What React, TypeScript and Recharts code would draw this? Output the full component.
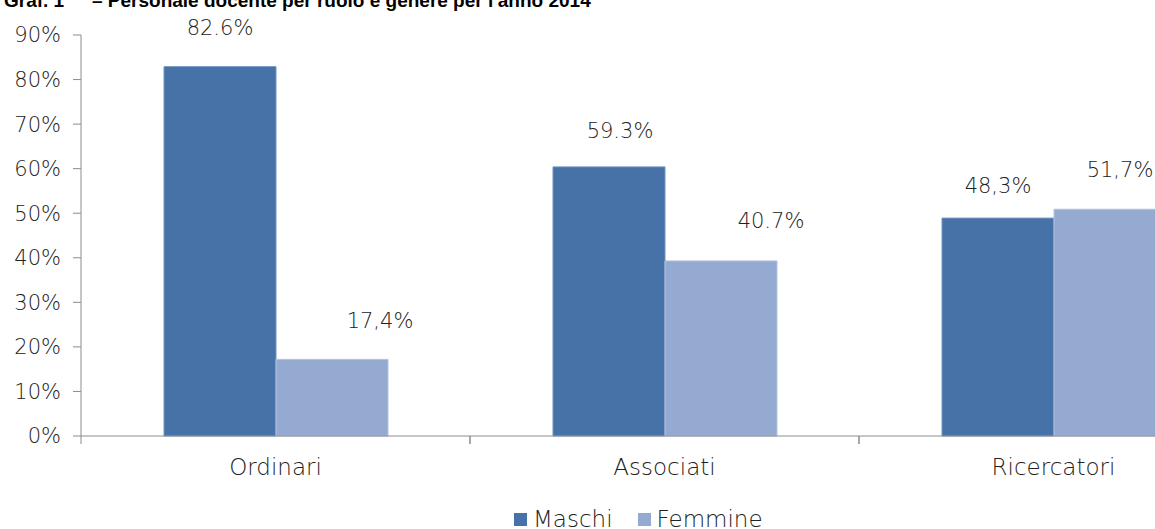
import React from 'react';
import { BarChart, Bar, XAxis, YAxis, Legend, LabelList } from 'recharts';

const categories = ['Ordinari', 'Associati', 'Ricercatori'];
const maschi = [82.9, 60.4, 48.9];
const femmine = [17.2, 39.3, 50.9];
const maschiLabels = ['82.6%', '59.3%', '48,3%'];
const femmineLabels = ['17,4%', '40.7%', '51,7%'];
const seriesNames = ['Maschi', 'Femmine'];
const yTicks = [0, 10, 20, 30, 40, 50, 60, 70, 80, 90];

const TITLE_A = 'Graf. 1';
const TITLE_B = "– Personale docente per ruolo e genere per l'anno 2014";

const FONT = '"DejaVu Sans", sans-serif';
const TEXT = '#222';
const AXIS = '#8c8c8c';
const C_M = '#4672a7';
const C_F = '#94aad0';
const COLORS = [C_M, C_F];

const CHART_W = 1253;
const CHART_H = 529;
const Y_W = 81;
const PLOT_W = 1167;
const HALF_BAND = PLOT_W / categories.length / 2;

// hand-placed label offsets, like the original
const mOffsets = [
  { dx: 0, dy: -32 },
  { dx: 11, dy: -29 },
  { dx: 0, dy: -25 },
];
const fOffsets = [
  { dx: 48, dy: -31 },
  { dx: 50, dy: -33 },
  { dx: 10, dy: -32 },
];

const data = categories.map((name, i) => ({
  name,
  maschi: maschi[i],
  femmine: femmine[i],
  mLabel: maschiLabels[i],
  fLabel: femmineLabels[i],
}));

const makeLabel = (offsets: { dx: number; dy: number }[]) => (props: any) => {
  const { x, y, width, index, value } = props;
  const o = offsets[index] ?? { dx: 0, dy: -30 };
  return (
    <text
      x={Number(x) + Number(width) / 2 + o.dx}
      y={Number(y) + o.dy}
      textAnchor="middle"
      fontFamily={FONT}
      fontWeight={200}
      fontSize={21}
      fill={TEXT}
    >
      {value}
    </text>
  );
};

const XTick = (props: any) => {
  const { x, y, payload } = props;
  return (
    <g>
      <line x1={x - HALF_BAND} x2={x - HALF_BAND} y1={y} y2={y + 8} stroke={AXIS} />
      <line x1={x + HALF_BAND} x2={x + HALF_BAND} y1={y} y2={y + 8} stroke={AXIS} />
      <text
        x={x}
        y={y + 39}
        textAnchor="middle"
        fontFamily={FONT}
        fontWeight={200}
        fontSize={23}
        fill={TEXT}
      >
        {payload.value}
      </text>
    </g>
  );
};

const LegendContent = () => (
  <div style={{ display: 'flex', alignItems: 'center', fontFamily: FONT, fontWeight: 200, fontSize: 23, color: TEXT, lineHeight: '26px' }}>
    {seriesNames.map((name, i) => (
      <div key={name} style={{ display: 'flex', alignItems: 'center', marginRight: 25 }}>
        <span style={{ display: 'inline-block', width: 13, height: 13, background: COLORS[i], marginRight: 6 }} />
        <span>{name}</span>
      </div>
    ))}
  </div>
);

export default function App() {
  return (
    <div
      style={{
        position: 'absolute',
        left: 0,
        top: 0,
        width: 1155,
        height: 529,
        overflow: 'hidden',
        background: '#fff',
      }}
    >
      <svg width={1155} height={20} style={{ position: 'absolute', left: 0, top: 0 }}>
        <text y={7} fontFamily='"Liberation Sans", Arial, sans-serif' fontWeight="bold" fontSize={19} fill="#000">
          <tspan x={4}>{TITLE_A}</tspan>
          <tspan x={92}>{TITLE_B}</tspan>
        </text>
      </svg>
      <BarChart
        width={CHART_W}
        height={CHART_H}
        data={data}
        margin={{ top: 35, right: CHART_W - Y_W - PLOT_W, left: 0, bottom: 0 }}
        barGap={0}
        barSize={112}
      >
        <XAxis
          dataKey="name"
          height={93}
          axisLine={{ stroke: AXIS }}
          tickLine={false}
          tickSize={0}
          tickMargin={0}
          tick={<XTick />}
          interval={0}
        />
        <YAxis
          width={Y_W}
          domain={[0, 90]}
          ticks={yTicks}
          interval={0}
          axisLine={{ stroke: AXIS }}
          tickLine={{ stroke: AXIS }}
          tickSize={8}
          tickMargin={12}
          tickFormatter={(v: number) => `${v}%`}
          tick={{ fontFamily: FONT, fontWeight: 200, fontSize: 21, fill: TEXT }}
        />
        <Legend
          layout="horizontal"
          verticalAlign="middle"
          align="center"
          wrapperStyle={{ top: 506, left: 514, width: 'auto' }}
          content={<LegendContent />}
        />
        <Bar dataKey="maschi" name="Maschi" fill={C_M} stroke="#6f93bf" strokeWidth={1} isAnimationActive={false}>
          <LabelList dataKey="mLabel" content={makeLabel(mOffsets)} />
        </Bar>
        <Bar dataKey="femmine" name="Femmine" fill={C_F} stroke="#b3c4e2" strokeWidth={1} isAnimationActive={false}>
          <LabelList dataKey="fLabel" content={makeLabel(fOffsets)} />
        </Bar>
      </BarChart>
    </div>
  );
}
